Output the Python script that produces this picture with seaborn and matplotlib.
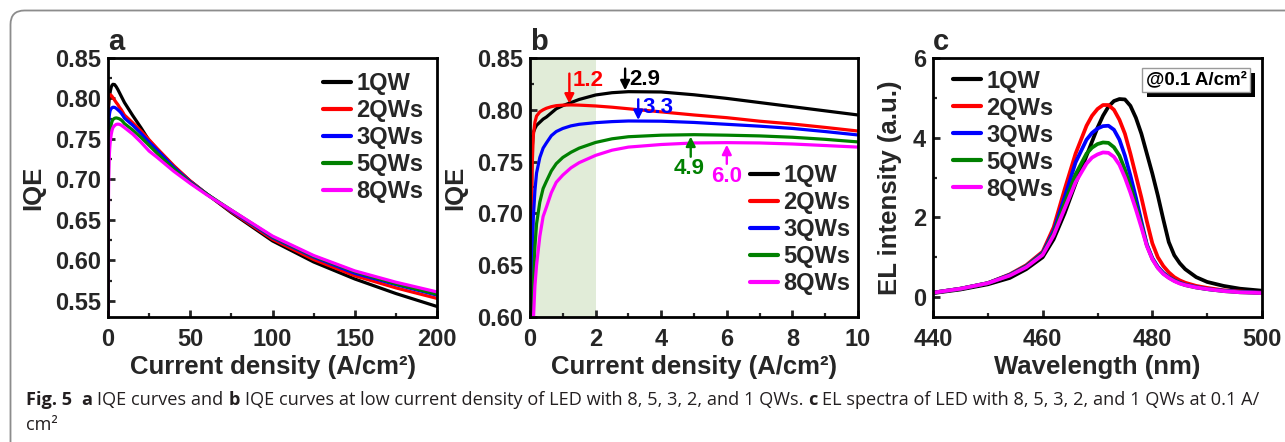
import numpy as np
import pandas as pd
import matplotlib
matplotlib.use("Agg")
import matplotlib.pyplot as plt
import matplotlib.transforms as mtransforms
from matplotlib.patches import FancyBboxPatch, Rectangle
from matplotlib.ticker import MultipleLocator, FormatStrFormatter
import seaborn as sns

# ---------------------------------------------------------------- data
series = ["1QW", "2QWs", "3QWs", "5QWs", "8QWs"]
colors = ["#000000", "#ff0000", "#0000ff", "#008000", "#ff00ff"]

# current density (A/cm^2) shared by the IQE curves of panels a and b
current_density = [0, 0.03, 0.06, 0.1, 0.15, 0.2, 0.3, 0.4, 0.5, 0.65, 0.8, 1.0,
                   1.25, 1.5, 2, 2.5, 3, 4, 5, 6, 7, 8, 9, 10,
                   15, 20, 25, 30, 40, 50, 60, 75, 100, 125, 150, 175, 200]

iqe_1qw = [0.45, 0.65, 0.76, 0.778, 0.782, 0.785, 0.788, 0.791, 0.793, 0.797, 0.801, 0.804,
           0.807, 0.810, 0.8143, 0.8165, 0.8175, 0.8172, 0.8145, 0.811, 0.807, 0.803, 0.799, 0.795,
           0.779, 0.764, 0.748, 0.737, 0.716, 0.698, 0.682, 0.659, 0.624, 0.598, 0.577, 0.559, 0.543]
iqe_2qws = [0.45, 0.62, 0.74, 0.775, 0.788, 0.794, 0.798, 0.800, 0.8015, 0.803, 0.804, 0.8045,
            0.8047, 0.8045, 0.8037, 0.8025, 0.801, 0.798, 0.795, 0.7924, 0.789, 0.7863, 0.783, 0.7795,
            0.770, 0.760, 0.749, 0.738, 0.717, 0.698, 0.682, 0.660, 0.626, 0.601, 0.581, 0.566, 0.553]
iqe_3qws = [0.40, 0.55, 0.64, 0.695, 0.722, 0.739, 0.754, 0.763, 0.768, 0.775, 0.779, 0.782,
            0.7845, 0.786, 0.7876, 0.7886, 0.7892, 0.789, 0.7878, 0.786, 0.7842, 0.782, 0.779, 0.7757,
            0.767, 0.757, 0.746, 0.736, 0.715, 0.697, 0.682, 0.661, 0.628, 0.604, 0.584, 0.570, 0.557]
iqe_5qws = [0.35, 0.50, 0.57, 0.63, 0.668, 0.690, 0.711, 0.724, 0.731, 0.741, 0.748, 0.754,
            0.759, 0.763, 0.7685, 0.772, 0.774, 0.7755, 0.776, 0.7755, 0.7748, 0.7735, 0.7715, 0.769,
            0.761, 0.752, 0.742, 0.732, 0.713, 0.696, 0.682, 0.662, 0.629, 0.605, 0.586, 0.571, 0.558]
iqe_8qws = [0.30, 0.45, 0.53, 0.595, 0.63, 0.65, 0.678, 0.697, 0.706, 0.72, 0.73, 0.737,
            0.744, 0.749, 0.756, 0.761, 0.764, 0.7665, 0.768, 0.7683, 0.768, 0.767, 0.7655, 0.764,
            0.756, 0.746, 0.735, 0.727, 0.710, 0.695, 0.681, 0.662, 0.630, 0.606, 0.587, 0.573, 0.561]

# current density at peak IQE, annotated in panel b
peak_current = [2.9, 1.2, 3.3, 4.9, 6.0]

# EL spectra at 0.1 A/cm^2
wavelength = [440, 445, 450, 454, 457, 460, 462, 464, 466, 468, 469, 470, 471, 472, 473, 474,
              475, 476, 477, 478, 479, 480, 481, 482, 483, 484, 485, 486, 488, 490, 493, 496, 500]
el_1qw = [0.10, 0.19, 0.32, 0.48, 0.70, 1.00, 1.45, 2.10, 2.85, 3.55, 3.90, 4.25, 4.55, 4.78, 4.92, 4.97,
          4.96, 4.80, 4.50, 4.10, 3.60, 3.10, 2.55, 1.95, 1.38, 1.05, 0.85, 0.70, 0.50, 0.38, 0.28, 0.21, 0.16]
el_2qws = [0.11, 0.21, 0.35, 0.57, 0.80, 1.14, 1.75, 2.70, 3.60, 4.30, 4.55, 4.72, 4.82, 4.82, 4.70, 4.45,
           4.10, 3.60, 3.05, 2.50, 1.90, 1.35, 1.00, 0.78, 0.62, 0.50, 0.42, 0.36, 0.28, 0.23, 0.17, 0.14, 0.11]
el_3qws = [0.11, 0.21, 0.35, 0.56, 0.78, 1.11, 1.66, 2.50, 3.38, 3.95, 4.12, 4.23, 4.29, 4.30, 4.20, 3.95,
           3.55, 3.05, 2.50, 1.90, 1.32, 0.98, 0.76, 0.61, 0.50, 0.42, 0.36, 0.31, 0.25, 0.20, 0.16, 0.13, 0.11]
el_5qws = [0.11, 0.21, 0.35, 0.55, 0.77, 1.09, 1.60, 2.36, 3.08, 3.60, 3.75, 3.84, 3.88, 3.87, 3.76, 3.55,
           3.20, 2.78, 2.32, 1.82, 1.30, 0.96, 0.74, 0.59, 0.49, 0.41, 0.35, 0.30, 0.24, 0.20, 0.15, 0.12, 0.10]
el_8qws = [0.11, 0.21, 0.35, 0.54, 0.75, 1.06, 1.55, 2.22, 2.88, 3.35, 3.50, 3.58, 3.63, 3.62, 3.52, 3.32,
           3.00, 2.62, 2.20, 1.75, 1.28, 0.95, 0.73, 0.58, 0.48, 0.40, 0.34, 0.30, 0.24, 0.20, 0.15, 0.12, 0.10]

iqe_df = pd.concat([pd.DataFrame({"J": current_density, "IQE": v, "sample": s})
                    for s, v in zip(series, [iqe_1qw, iqe_2qws, iqe_3qws, iqe_5qws, iqe_8qws])],
                   ignore_index=True)
el_df = pd.concat([pd.DataFrame({"wl": wavelength, "EL": v, "sample": s})
                   for s, v in zip(series, [el_1qw, el_2qws, el_3qws, el_5qws, el_8qws])],
                  ignore_index=True)
palette = dict(zip(series, colors))

# ---------------------------------------------------------------- style
sns.set_style("ticks")
plt.rcParams["font.family"] = ["Liberation Sans", "DejaVu Sans"]
plt.rcParams["font.weight"] = "bold"
plt.rcParams["axes.labelweight"] = "bold"
plt.rcParams["axes.linewidth"] = 2.0

W, H = 1285, 442
fig = plt.figure(figsize=(W / 100, H / 100), dpi=100)
fig.patch.set_facecolor("white")


def px_axes(left, right, top, bottom):
    return fig.add_axes([left / W, 1 - bottom / H, (right - left) / W, (bottom - top) / H])


ax_a = px_axes(108, 437, 58, 317)
ax_b = px_axes(530, 858, 58, 317)
ax_c = px_axes(933, 1262, 58, 317)

LW = 2.3
TICK_FS = 17
LABEL_FS = 18.5
LEG_FS = 17

sns.lineplot(data=iqe_df, x="J", y="IQE", hue="sample", hue_order=series, palette=palette,
             linewidth=LW, sort=False, ax=ax_a)
ax_b.axvspan(0, 2, color="#e1ecd8", lw=0, zorder=0)
sns.lineplot(data=iqe_df[iqe_df["J"] <= 10], x="J", y="IQE", hue="sample", hue_order=series,
             palette=palette, linewidth=LW, sort=False, ax=ax_b)
sns.lineplot(data=el_df, x="wl", y="EL", hue="sample", hue_order=series, palette=palette,
             linewidth=LW + 0.4, sort=False, ax=ax_c)


def style_axes(ax, xlim, ylim, xmaj, xmin, ymaj, ymin, yfmt):
    ax.set_xlim(*xlim)
    ax.set_ylim(*ylim)
    ax.xaxis.set_major_locator(MultipleLocator(xmaj))
    ax.xaxis.set_minor_locator(MultipleLocator(xmin))
    ax.yaxis.set_major_locator(MultipleLocator(ymaj))
    ax.yaxis.set_minor_locator(MultipleLocator(ymin))
    if yfmt:
        ax.yaxis.set_major_formatter(FormatStrFormatter(yfmt))
    ax.tick_params(which="major", direction="in", length=5, width=2.0, labelsize=TICK_FS,
                   top=False, right=False)
    ax.tick_params(which="minor", direction="in", length=3, width=1.6, top=False, right=False)
    ax.tick_params(axis="x", which="major", pad=8)
    ax.tick_params(axis="y", which="major", pad=5)
    for lab in ax.get_xticklabels() + ax.get_yticklabels():
        lab.set_fontweight("bold")
    for sp in ax.spines.values():
        sp.set_visible(True)
        sp.set_linewidth(2.0)
        sp.set_color("black")
    ax.set_facecolor("white")


style_axes(ax_a, (0, 200), (0.53, 0.85), 50, 25, 0.05, 0.025, "%.2f")
style_axes(ax_b, (0, 10), (0.60, 0.85), 2, 1, 0.05, 0.025, "%.2f")
style_axes(ax_c, (440, 500), (-0.5, 6), 20, 10, 2, 1, None)

xlab = "Current density (A/cm\u00b2)"
ax_a.set_xlabel(xlab, fontsize=LABEL_FS, fontweight="bold")
ax_b.set_xlabel(xlab, fontsize=LABEL_FS, fontweight="bold")
ax_c.set_xlabel("Wavelength (nm)", fontsize=LABEL_FS, fontweight="bold")
ax_a.set_ylabel("IQE", fontsize=LABEL_FS, fontweight="bold")
ax_b.set_ylabel("IQE", fontsize=LABEL_FS, fontweight="bold")
ax_c.set_ylabel("EL intensity (a.u.)", fontsize=LABEL_FS, fontweight="bold")
for ax in (ax_a, ax_b, ax_c):
    ax.xaxis.set_label_coords(0.5, -0.145)
ax_a.yaxis.set_label_coords(-0.19, 0.5)
ax_b.yaxis.set_label_coords(-0.19, 0.5)
ax_c.yaxis.set_label_coords(-0.095, 0.5)

for ax, letter in zip((ax_a, ax_b, ax_c), "abc"):
    ax.text(0.0, 1.03, letter, transform=ax.transAxes, fontsize=21, fontweight="bold",
            ha="left", va="baseline")


def make_legend(ax, anchor):
    handles, labels = ax.get_legend_handles_labels()
    leg = ax.legend(handles, labels, loc="upper left", bbox_to_anchor=anchor, frameon=False,
                    fontsize=LEG_FS, handlelength=1.2, handletextpad=0.22, labelspacing=0.17,
                    borderpad=0, borderaxespad=0)
    for line in leg.get_lines():
        line.set_linewidth(3.0)
    for t in leg.get_texts():
        t.set_fontweight("bold")


make_legend(ax_a, (0.653, 0.945))
make_legend(ax_b, (0.671, 0.59))
make_legend(ax_c, (0.061, 0.955))

# peak markers in panel b: (tip gap, arrow length, text dx, text dy from tail)
iqe_series = [iqe_1qw, iqe_2qws, iqe_3qws, iqe_5qws, iqe_8qws]
arrow_geom = [(0.0015, 0.021, 0.12, -0.0105),
              (0.0013, 0.029, 0.10, -0.007),
              (0.0010, 0.020, 0.12, -0.008),
              (-0.0018, -0.0195, -0.05, -0.0112),
              (-0.0020, -0.0185, 0.0, -0.012)]
for k, (jp, col) in enumerate(zip(peak_current, colors)):
    yv = float(np.interp(jp, current_density, iqe_series[k]))
    gap, length, tdx, tdy = arrow_geom[k]
    tip = yv + gap
    tail = tip + length
    ax_b.annotate("", xy=(jp, tip), xytext=(jp, tail),
                  arrowprops=dict(arrowstyle="-|>", color=col, lw=1.7, mutation_scale=14,
                                  shrinkA=0, shrinkB=0))
    ax_b.text(jp + tdx, tail + tdy, f"{jp:.1f}", color=col, fontsize=16, fontweight="bold",
              ha="left" if k < 3 else "center", va="center")

# condition box with drop shadow in panel c
box_txt = "@0.1 A/cm\u00b2"
box = ax_c.text(0.80, 0.915, box_txt, transform=ax_c.transAxes, fontsize=13.5, fontweight="bold",
                color="black", ha="center", va="center", zorder=6,
                bbox=dict(boxstyle="square,pad=0.2", fc="white", ec="#9a9a9a", lw=1))
renderer = fig.canvas.get_renderer()
fig.canvas.draw()
bb = box.get_bbox_patch().get_window_extent(renderer)
shadow = Rectangle((bb.x0 + 5, bb.y0 - 5), bb.width, bb.height,
                   transform=mtransforms.IdentityTransform(), fc="black", ec="none", zorder=5)
ax_c.add_artist(shadow)

# page frame with rounded top-left corner
frame = FancyBboxPatch((10.5, -40), W + 60, H - 10.5 + 40,
                       boxstyle="round,pad=0,rounding_size=14",
                       transform=mtransforms.IdentityTransform(),
                       fc="none", ec="#8c8c8c", lw=1.3, zorder=0)
fig.add_artist(frame)

# caption with mixed bold / regular runs
cap_font = ["Open Sans", "DejaVu Sans"]
cap_col = "#231f20"
runs = [("Fig. 5", "bold", 2), ("a", "bold", 1), ("IQE curves and", "normal", 1),
        ("b", "bold", 1), ("IQE curves at low current density of LED with 8, 5, 3, 2, and 1 QWs.", "normal", 1),
        ("c", "bold", 1), ("EL spectra of LED with 8, 5, 3, 2, and 1 QWs at 0.1 A/", "normal", 0)]


def text_width(s, size, weight):
    t = fig.text(0, 0, s, fontsize=size, fontweight=weight, family=cap_font)
    w = t.get_window_extent(renderer).width
    t.remove()
    return w


def runs_width(size):
    sp = text_width("x x", size, "normal") - text_width("xx", size, "normal")
    total = 0
    for s, wgt, gaps in runs:
        total += text_width(s, size, wgt) + gaps * sp
    return total, sp


cap_size = 12.5
tw, _ = runs_width(cap_size)
cap_size = cap_size * 1232 / tw
_, space = runs_width(cap_size)
x = 26
base1 = H - 405
for s, wgt, gaps in runs:
    fig.text(x / W, base1 / H, s, fontsize=cap_size, fontweight=wgt, family=cap_font,
             color=cap_col, ha="left", va="baseline")
    x += text_width(s, cap_size, wgt) + gaps * space
fig.text(26 / W, (H - 430) / H, "cm\u00b2", fontsize=cap_size, fontweight="normal",
         family=cap_font, color=cap_col, ha="left", va="baseline")

fig.savefig("out.png", dpi=100)
